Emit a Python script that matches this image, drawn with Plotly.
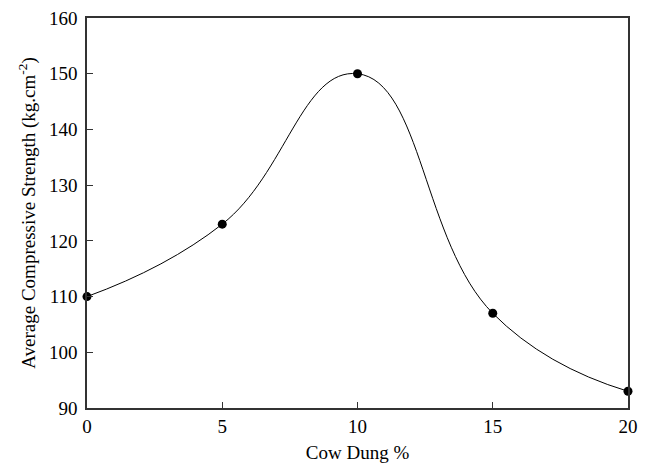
import plotly.graph_objects as go

cow_dung = [0, 5, 10, 15, 20]
strength = [110, 123, 150, 107, 93]
x_ticks = [0, 5, 10, 15, 20]
y_ticks = [90, 100, 110, 120, 130, 140, 150, 160]

fig = go.Figure()
fig.add_trace(go.Scatter(
    x=cow_dung, y=strength, mode="lines+markers",
    line=dict(color="black", width=1, shape="spline", smoothing=1.3),
    marker=dict(color="black", size=9),
    showlegend=False, cliponaxis=False,
))

font = dict(family="Liberation Serif, Times New Roman, serif", size=19, color="black")
axis_common = dict(
    showgrid=False, zeroline=False, showline=True, linecolor="#333333", linewidth=1.5,
    mirror=True, ticks="inside", ticklen=6, tickcolor="#333333", tickwidth=1.2,
    tickfont=font, automargin=False, ticklabeloverflow="allow",
)
fig.update_xaxes(range=[0, 20], tickvals=x_ticks,
                 title=dict(text="Cow Dung %", font=font, standoff=10), **axis_common)
fig.update_yaxes(range=[90, 160], tickvals=y_ticks, ticklabelstandoff=4,
                 title=dict(text="Average Compressive Strength (kg.cm<sup>-2</sup>)", font=font, standoff=8),
                 **axis_common)
fig.update_layout(
    width=651, height=464,
    margin=dict(l=79, r=31, t=10, b=64),
    plot_bgcolor="white", paper_bgcolor="white",
    font=font,
)
fig.write_html("out.html")
